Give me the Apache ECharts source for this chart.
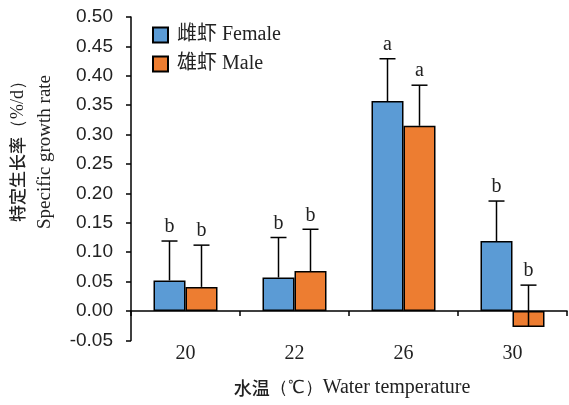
<!DOCTYPE html>
<html><head><meta charset="utf-8">
<script src="https://cdn.jsdelivr.net/npm/echarts@6/dist/echarts.min.js"></script>
<style>html,body{margin:0;padding:0;background:#fff}#c{width:569px;height:405px}</style>
</head><body><div id="c"></div>
<script>
const categories = ['20', '22', '26', '30'];
const femaleValues = [0.052, 0.057, 0.357, 0.119];
const maleValues = [0.041, 0.068, 0.315, -0.027];
const femaleErrTop = [0.119, 0.125, 0.429, 0.187];
const maleErrTop = [0.112, 0.139, 0.384, 0.044];
const femaleLetters = ['b', 'b', 'a', 'b'];
const maleLetters = ['b', 'b', 'a', 'b'];
const yTicks = { min: -0.05, max: 0.5, interval: 0.05 };

const serif = '"Liberation Serif", "Times New Roman", serif';
const cjk = '"Noto Sans CJK SC", sans-serif';
const BW = 32;

function errSeries(name, vals, tops, letters, offset) {
  return {
    type: 'custom', name: name + '_err', z: 10, silent: true,
    data: vals.map((v, i) => [i, v, tops[i]]),
    renderItem: function (params, api) {
      const i = api.value(0);
      const p0 = api.coord([i, api.value(1)]);
      const p1 = api.coord([i, api.value(2)]);
      const x = p0[0] + offset;
      const cap = 8;
      return {
        type: 'group',
        children: [
          { type: 'line', shape: { x1: x, y1: p0[1], x2: x, y2: p1[1] }, style: { stroke: '#000', lineWidth: 1.5 } },
          { type: 'line', shape: { x1: x - cap, y1: p1[1], x2: x + cap, y2: p1[1] }, style: { stroke: '#000', lineWidth: 1.5 } },
          { type: 'text', x: x, y: p1[1] - 4, style: { text: letters[i], fill: '#222', font: '20px ' + serif, align: 'center', verticalAlign: 'bottom' } }
        ]
      };
    }
  };
}

const chart = echarts.init(document.getElementById('c'));
chart.setOption({
  animation: false,
  backgroundColor: '#fff',
  grid: { left: 131, right: 2, top: 17, bottom: 64.6, containLabel: false },
  legend: {
    orient: 'vertical', left: 147, top: 20, itemWidth: 15, itemHeight: 15, itemGap: 9,
    data: ['雌虾 Female', '雄虾 Male'],
    textStyle: { fontFamily: serif + ', ' + cjk, fontSize: 20, color: '#222', padding: [0, 0, 0, 4] },
    icon: 'rect'
  },
  xAxis: {
    type: 'category', data: categories,
    axisLine: { onZero: true, lineStyle: { color: '#000', width: 1.5 } },
    axisTick: { show: true, length: 5, inside: false, lineStyle: { color: '#000', width: 1.5 } },
    axisLabel: { margin: 3, fontFamily: serif, fontSize: 20, color: '#222' }
  },
  yAxis: {
    type: 'value', min: yTicks.min, max: yTicks.max, interval: yTicks.interval,
    splitLine: { show: false },
    axisLine: { show: true, lineStyle: { color: '#000', width: 1.5 } },
    axisTick: { show: true, length: 5, lineStyle: { color: '#000', width: 1.5 } },
    axisLabel: { margin: 18, fontFamily: '"Liberation Sans", Arial, sans-serif', fontSize: 19, color: '#222', formatter: v => v.toFixed(2) }
  },
  graphic: [
    { type: 'text', x: 18, y: 147, rotation: Math.PI / 2, style: { rich: { c: { font: '500 17px ' + cjk, fill: '#222' }, s: { font: '18px ' + serif, fill: '#222' } }, text: '{c|特定生长率}{s|（%/d）}', align: 'center', verticalAlign: 'middle' } },
    { type: 'text', x: 45, y: 152, rotation: Math.PI / 2, style: { text: 'Specific growth rate', font: '19px ' + serif, fill: '#222', align: 'center', verticalAlign: 'middle' } },
    { type: 'text', x: 352, y: 388, style: { rich: { c: { font: '500 18px ' + cjk, fill: '#222' }, s: { font: '18px ' + serif, fill: '#222' }, e: { font: '20px ' + serif, fill: '#222' } }, text: '{c|水温}{s|（℃）}{e|Water temperature}', align: 'center', verticalAlign: 'middle' } }
  ],
  series: [
    { name: '雌虾 Female', type: 'bar', data: femaleValues, barWidth: BW, barGap: '0%',
      itemStyle: { color: '#5B9BD5', borderColor: '#000', borderWidth: 1.5 } },
    { name: '雄虾 Male', type: 'bar', data: maleValues, barWidth: BW, barGap: '0%',
      itemStyle: { color: '#ED7D31', borderColor: '#000', borderWidth: 1.5 } },
    errSeries('f', femaleValues, femaleErrTop, femaleLetters, -BW / 2),
    errSeries('m', maleValues, maleErrTop, maleLetters, BW / 2)
  ]
});
</script></body></html>
